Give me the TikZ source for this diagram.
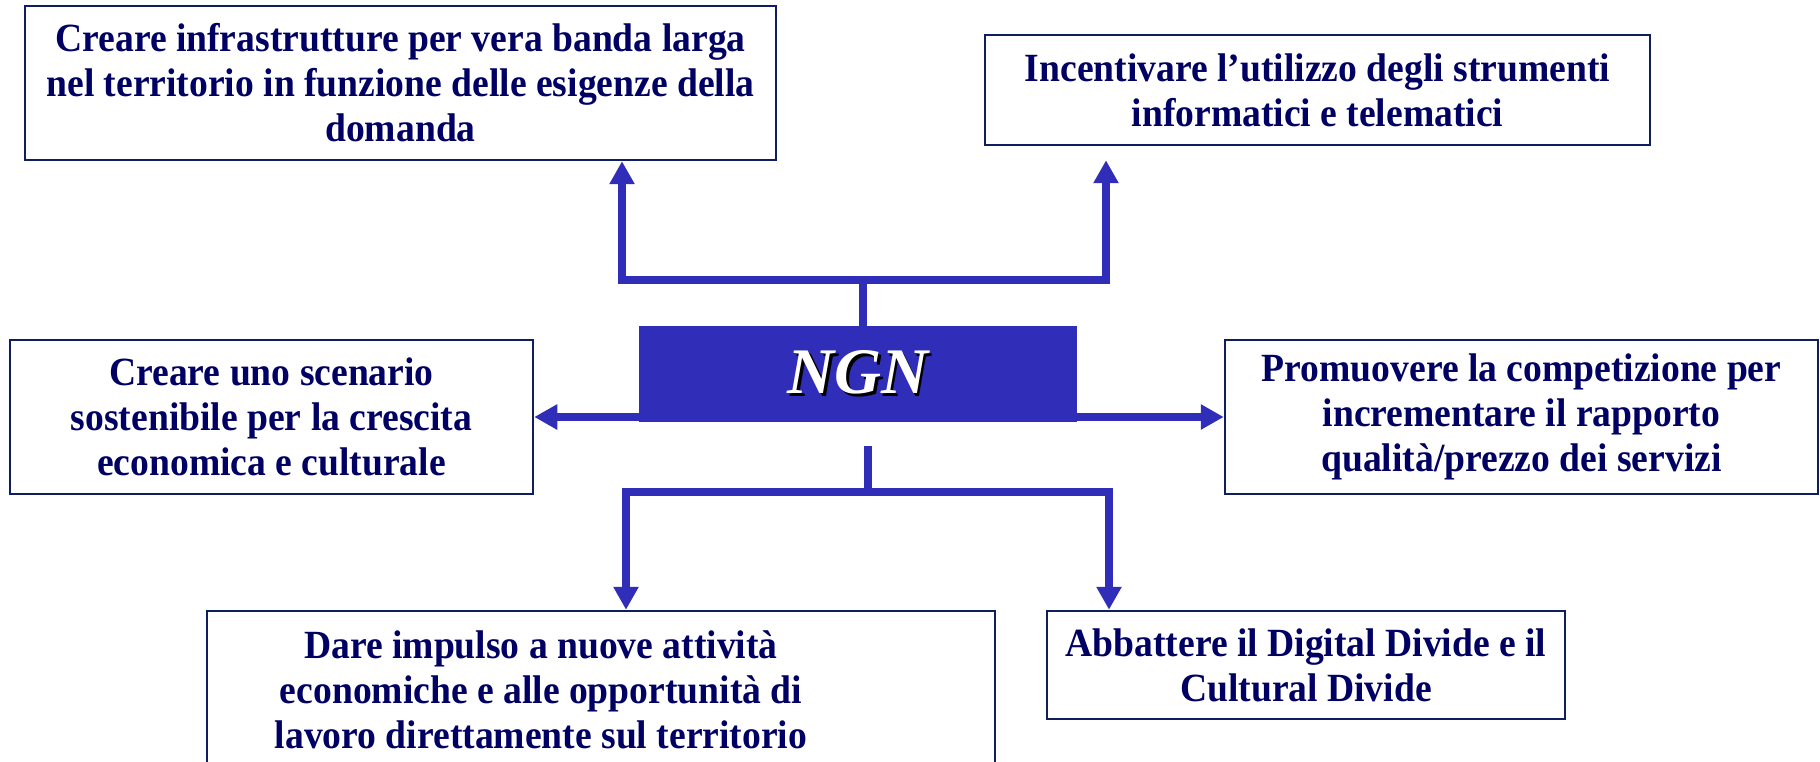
\documentclass[tikz,border=0pt]{standalone}
\usepackage{fontspec}
\newfontfamily\boxfont[FakeStretch=0.94]{Liberation Serif}
\newfontfamily\ngnfont{Liberation Serif}
\usetikzlibrary{arrows.meta,calc}
\definecolor{lineblue}{RGB}{48,46,184}
\definecolor{textnavy}{RGB}{0,0,100}
\definecolor{bordernavy}{RGB}{14,30,96}
\begin{document}
\begin{tikzpicture}[x=1pt,y=-1pt,
  >={Triangle[length=23pt,width=24pt]},
  goal/.style={draw=bordernavy, line width=2.5pt, fill=white, text=textnavy,
    align=center, inner sep=0pt,
    font=\boxfont\bfseries\fontsize{40}{45}\selectfont},
  ngnbox/.style={fill=lineblue, draw=none, text=white, inner sep=0pt,
    font=\ngnfont\bfseries\itshape\fontsize{65}{70}\selectfont},
  conn/.style={draw=lineblue, line width=8pt, line join=miter},
  arr/.style={conn, ->}]
\useasboundingbox (0,0) rectangle (1820,762);

\node[goal, minimum width=751pt, minimum height=154pt] (A) at (400.5,83)
  {Creare infrastrutture per vera banda larga\\nel territorio in funzione delle esigenze della\\domanda};
\node[goal, minimum width=665pt, minimum height=110pt] (B) at (1317.5,90)
  {Incentivare l’utilizzo degli strumenti\\informatici e telematici};
\node[goal, minimum width=523pt, minimum height=154pt] (C) at (271.5,417)
  {Creare uno scenario\\sostenibile per la crescita\\economica e culturale};
\node[goal, minimum width=593pt, minimum height=154pt] (D) at (1521.5,417)
  {Promuovere la competizione per\\incrementare il rapporto\\qualità/prezzo dei servizi};
\node[goal, minimum width=788pt, minimum height=166pt] (E) at (601,694)
  {\hspace*{-120pt}\begin{tabular}{@{}c@{}}Dare impulso a nuove attività\\economiche e alle opportunità di\\lavoro direttamente sul territorio\end{tabular}};
\node[goal, minimum width=518pt, minimum height=108pt] (F) at (1306,665)
  {Abbattere il Digital Divide e il\\Cultural Divide};

\node[ngnbox, minimum width=438pt, minimum height=96pt] (ngn) at (858,374)
  {\makebox[0pt][l]{\hspace*{2.5pt}\raisebox{-2.5pt}{\color{black}NGN}}NGN};

% top branch
\coordinate (tj) at (863,280);
\draw[conn] ([xshift=5pt]ngn.north) -- (tj);
\draw[conn, <->] ([xshift=221.5pt]A.south) |- (tj) -| ([xshift=-211.5pt,yshift=-14pt]B.south);

% side arrows
\draw[arr] (ngn.west |- C.east) -- (C.east);
\draw[arr] (ngn.east |- D.west) -- (D.west);

% bottom branch
\coordinate (bj) at (868,492);
\draw[conn] ([xshift=10pt,yshift=-24pt]ngn.south) -- (bj);
\draw[conn, <->] ([xshift=25pt]E.north) |- (bj) -| ([xshift=-197pt]F.north);
\end{tikzpicture}
\end{document}
